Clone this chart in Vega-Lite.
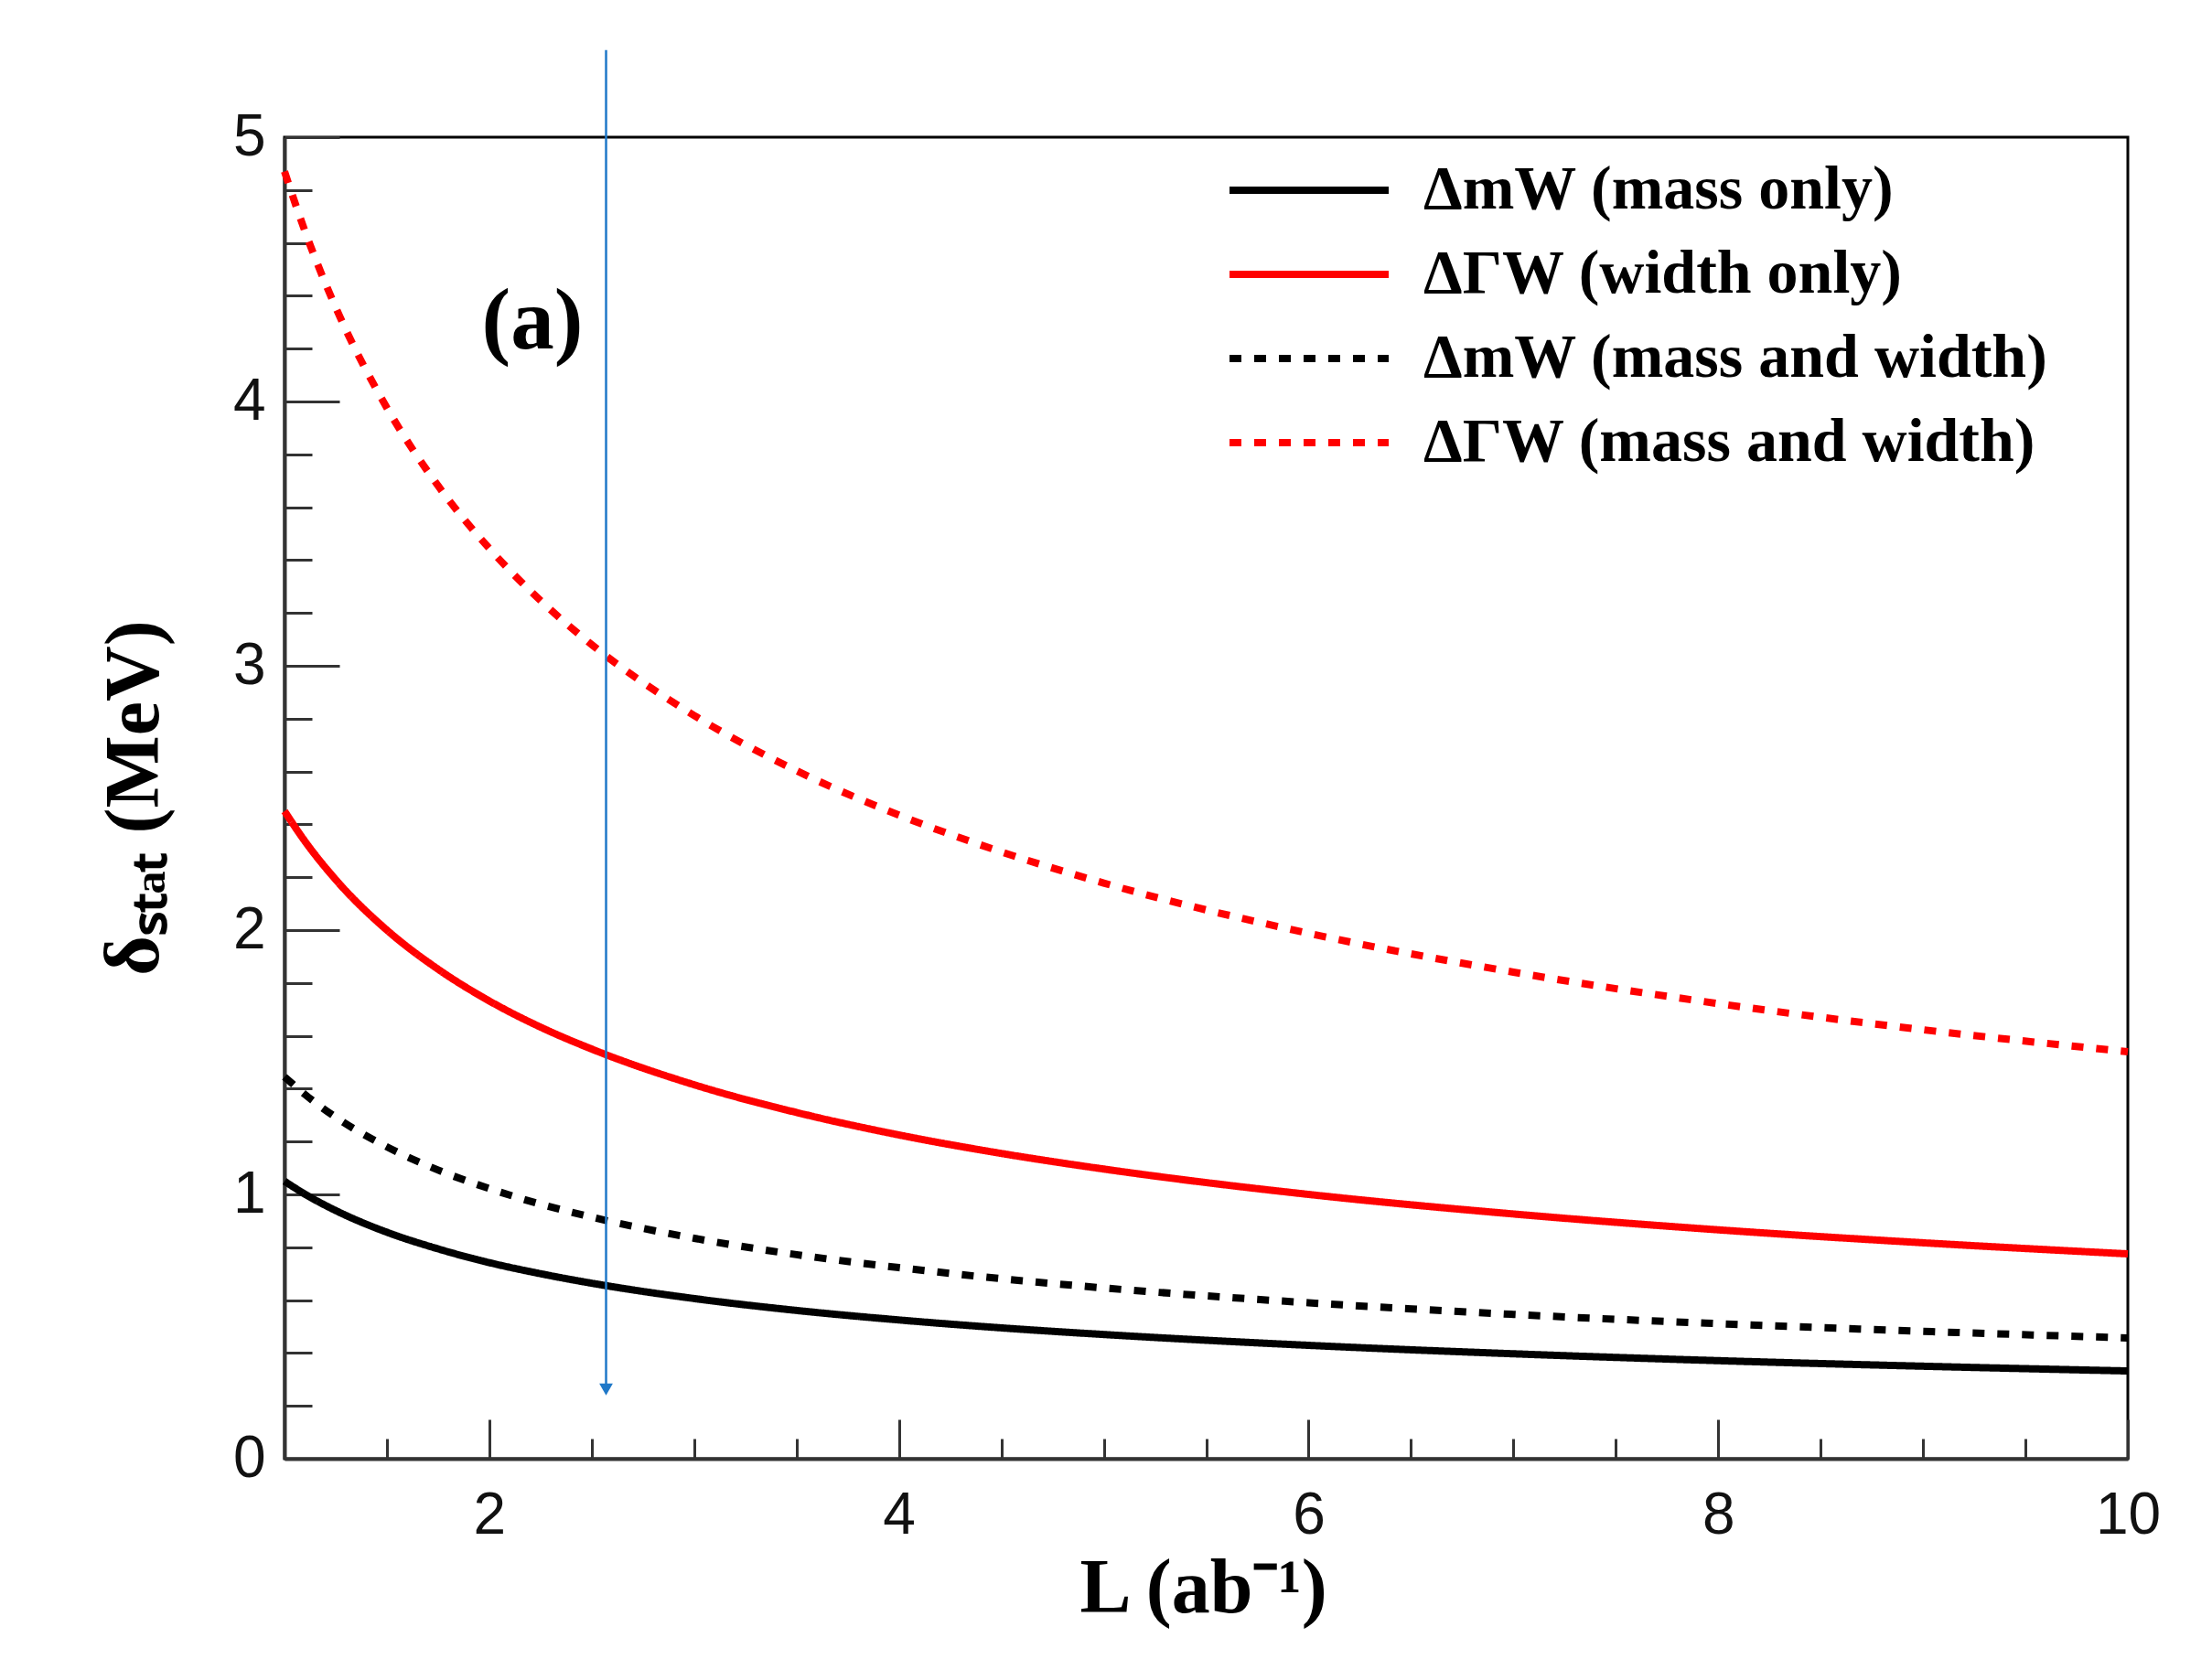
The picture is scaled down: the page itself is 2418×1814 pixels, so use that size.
{
  "$schema": "https://vega.github.io/schema/vega-lite/v6.json",
  "width": 2015,
  "height": 1445,
  "autosize": {"type": "none"},
  "padding": {"left": 311, "top": 150, "right": 92, "bottom": 219},
  "background": "white",
  "config": {"view": {"stroke": "#000", "strokeWidth": 3}, "font": "Liberation Sans"},
  "datasets": {
    "curves": [
      {"L": 1, "v": 1.050, "s": "ΔmW (mass only)"},
      {"L": 1.1, "v": 1.001, "s": "ΔmW (mass only)"},
      {"L": 1.25, "v": 0.939, "s": "ΔmW (mass only)"},
      {"L": 1.5, "v": 0.857, "s": "ΔmW (mass only)"},
      {"L": 1.75, "v": 0.794, "s": "ΔmW (mass only)"},
      {"L": 2, "v": 0.742, "s": "ΔmW (mass only)"},
      {"L": 2.25, "v": 0.700, "s": "ΔmW (mass only)"},
      {"L": 2.5, "v": 0.664, "s": "ΔmW (mass only)"},
      {"L": 3, "v": 0.606, "s": "ΔmW (mass only)"},
      {"L": 3.5, "v": 0.561, "s": "ΔmW (mass only)"},
      {"L": 4, "v": 0.525, "s": "ΔmW (mass only)"},
      {"L": 4.5, "v": 0.495, "s": "ΔmW (mass only)"},
      {"L": 5, "v": 0.470, "s": "ΔmW (mass only)"},
      {"L": 6, "v": 0.429, "s": "ΔmW (mass only)"},
      {"L": 7, "v": 0.397, "s": "ΔmW (mass only)"},
      {"L": 8, "v": 0.371, "s": "ΔmW (mass only)"},
      {"L": 9, "v": 0.350, "s": "ΔmW (mass only)"},
      {"L": 10, "v": 0.332, "s": "ΔmW (mass only)"},
      {"L": 1, "v": 2.450, "s": "ΔΓW (width only)"},
      {"L": 1.1, "v": 2.336, "s": "ΔΓW (width only)"},
      {"L": 1.25, "v": 2.191, "s": "ΔΓW (width only)"},
      {"L": 1.5, "v": 2.000, "s": "ΔΓW (width only)"},
      {"L": 1.75, "v": 1.852, "s": "ΔΓW (width only)"},
      {"L": 2, "v": 1.732, "s": "ΔΓW (width only)"},
      {"L": 2.25, "v": 1.633, "s": "ΔΓW (width only)"},
      {"L": 2.5, "v": 1.550, "s": "ΔΓW (width only)"},
      {"L": 3, "v": 1.415, "s": "ΔΓW (width only)"},
      {"L": 3.5, "v": 1.310, "s": "ΔΓW (width only)"},
      {"L": 4, "v": 1.225, "s": "ΔΓW (width only)"},
      {"L": 4.5, "v": 1.155, "s": "ΔΓW (width only)"},
      {"L": 5, "v": 1.096, "s": "ΔΓW (width only)"},
      {"L": 6, "v": 1.000, "s": "ΔΓW (width only)"},
      {"L": 7, "v": 0.926, "s": "ΔΓW (width only)"},
      {"L": 8, "v": 0.866, "s": "ΔΓW (width only)"},
      {"L": 9, "v": 0.817, "s": "ΔΓW (width only)"},
      {"L": 10, "v": 0.775, "s": "ΔΓW (width only)"},
      {"L": 1, "v": 1.445, "s": "ΔmW (mass and width)"},
      {"L": 1.1, "v": 1.378, "s": "ΔmW (mass and width)"},
      {"L": 1.25, "v": 1.292, "s": "ΔmW (mass and width)"},
      {"L": 1.5, "v": 1.180, "s": "ΔmW (mass and width)"},
      {"L": 1.75, "v": 1.092, "s": "ΔmW (mass and width)"},
      {"L": 2, "v": 1.022, "s": "ΔmW (mass and width)"},
      {"L": 2.25, "v": 0.963, "s": "ΔmW (mass and width)"},
      {"L": 2.5, "v": 0.914, "s": "ΔmW (mass and width)"},
      {"L": 3, "v": 0.834, "s": "ΔmW (mass and width)"},
      {"L": 3.5, "v": 0.772, "s": "ΔmW (mass and width)"},
      {"L": 4, "v": 0.723, "s": "ΔmW (mass and width)"},
      {"L": 4.5, "v": 0.681, "s": "ΔmW (mass and width)"},
      {"L": 5, "v": 0.646, "s": "ΔmW (mass and width)"},
      {"L": 6, "v": 0.590, "s": "ΔmW (mass and width)"},
      {"L": 7, "v": 0.546, "s": "ΔmW (mass and width)"},
      {"L": 8, "v": 0.511, "s": "ΔmW (mass and width)"},
      {"L": 9, "v": 0.482, "s": "ΔmW (mass and width)"},
      {"L": 10, "v": 0.457, "s": "ΔmW (mass and width)"},
      {"L": 1, "v": 4.870, "s": "ΔΓW (mass and width)"},
      {"L": 1.1, "v": 4.644, "s": "ΔΓW (mass and width)"},
      {"L": 1.25, "v": 4.356, "s": "ΔΓW (mass and width)"},
      {"L": 1.5, "v": 3.976, "s": "ΔΓW (mass and width)"},
      {"L": 1.75, "v": 3.681, "s": "ΔΓW (mass and width)"},
      {"L": 2, "v": 3.444, "s": "ΔΓW (mass and width)"},
      {"L": 2.25, "v": 3.247, "s": "ΔΓW (mass and width)"},
      {"L": 2.5, "v": 3.080, "s": "ΔΓW (mass and width)"},
      {"L": 3, "v": 2.812, "s": "ΔΓW (mass and width)"},
      {"L": 3.5, "v": 2.603, "s": "ΔΓW (mass and width)"},
      {"L": 4, "v": 2.435, "s": "ΔΓW (mass and width)"},
      {"L": 4.5, "v": 2.296, "s": "ΔΓW (mass and width)"},
      {"L": 5, "v": 2.178, "s": "ΔΓW (mass and width)"},
      {"L": 6, "v": 1.988, "s": "ΔΓW (mass and width)"},
      {"L": 7, "v": 1.841, "s": "ΔΓW (mass and width)"},
      {"L": 8, "v": 1.722, "s": "ΔΓW (mass and width)"},
      {"L": 9, "v": 1.623, "s": "ΔΓW (mass and width)"},
      {"L": 10, "v": 1.540, "s": "ΔΓW (mass and width)"}
    ],
    "arrow": [{"x": 2.57, "y1": 0.262, "y2": 5.33}],
    "labels": [{"x": 2.21, "y": 4.30, "label": "(a)"}]
  },
  "layer": [
    {
      "data": {"name": "curves"},
      "mark": {"type": "line", "strokeWidth": 8, "interpolate": "monotone", "strokeCap": "butt"},
      "encoding": {
        "x": {
          "field": "L", "type": "quantitative",
          "scale": {"domain": [1, 10], "nice": false, "zero": false},
          "axis": {
            "values": [1, 1.5, 2, 2.5, 3, 3.5, 4, 4.5, 5, 5.5, 6, 6.5, 7, 7.5, 8, 8.5, 9, 9.5, 10],
            "title": "L (ab⁻¹)",
            "titleFont": "Liberation Serif", "titleFontWeight": "bold", "titleFontSize": 84, "titleColor": "#000",
            "titleX": 1004, "titleY": 167, "titleAlign": "center", "titleBaseline": "alphabetic",
            "labelExpr": "datum.value % 2 === 0 ? '' + datum.value : ''",
            "labelFont": "Liberation Sans", "labelFontSize": 64, "labelColor": "#111",
            "labelPadding": 73, "labelFlush": false, "labelOverlap": false,
            "tickSize": {"condition": {"test": "datum.value % 2 === 0", "value": -43}, "value": -22},
            "tickColor": "#333", "tickWidth": 3,
            "domainColor": "#333", "domainWidth": 4,
            "grid": false
          }
        },
        "y": {
          "field": "v", "type": "quantitative",
          "scale": {"domain": [0, 5], "nice": false},
          "axis": {
            "values": [0, 0.2, 0.4, 0.6, 0.8, 1, 1.2, 1.4, 1.6, 1.8, 2, 2.2, 2.4, 2.6, 2.8, 3, 3.2, 3.4, 3.6, 3.8, 4, 4.2, 4.4, 4.6, 4.8, 5],
            "title": "δₛₜₐₜ (MeV)",
            "titleFont": "Liberation Serif", "titleFontWeight": "bold", "titleFontSize": 84, "titleColor": "#000",
            "titleX": -164, "titleY": 722, "titleAngle": -90, "titleAlign": "center", "titleBaseline": "middle",
            "labelExpr": "datum.value % 1 === 0 ? '' + datum.value : ''",
            "labelFont": "Liberation Sans", "labelFontSize": 64, "labelColor": "#111",
            "labelPadding": 81, "labelFlush": false, "labelOverlap": false,
            "tickSize": {"condition": {"test": "datum.value % 1 === 0", "value": -60}, "value": -30},
            "tickColor": "#333", "tickWidth": 3,
            "domainColor": "#333", "domainWidth": 4,
            "grid": false
          }
        },
        "color": {
          "field": "s", "type": "nominal",
          "scale": {
            "domain": ["ΔmW (mass only)", "ΔΓW (width only)", "ΔmW (mass and width)", "ΔΓW (mass and width)"],
            "range": ["#000000", "#ff0000", "#000000", "#ff0000"]
          },
          "legend": {
            "orient": "none", "legendX": 1086, "legendY": 24, "title": null,
            "symbolType": "M-3,0H3", "symbolSize": 3364, "symbolStrokeWidth": 8,
            "labelFont": "Liberation Serif", "labelFontWeight": "bold", "labelFontSize": 68, "labelColor": "#000",
            "labelOffset": 91, "labelLimit": 1000, "rowPadding": 24, "padding": 0
          }
        },
        "strokeDash": {
          "field": "s", "type": "nominal",
          "scale": {
            "domain": ["ΔmW (mass only)", "ΔΓW (width only)", "ΔmW (mass and width)", "ΔΓW (mass and width)"],
            "range": [[1, 0], [1, 0], [13, 14], [13, 14]]
          },
          "legend": {
            "orient": "none", "legendX": 1086, "legendY": 24, "title": null,
            "symbolType": "M-3,0H3", "symbolSize": 3364, "symbolStrokeWidth": 8,
            "labelFont": "Liberation Serif", "labelFontWeight": "bold", "labelFontSize": 68, "labelColor": "#000",
            "labelOffset": 91, "labelLimit": 1000, "rowPadding": 24, "padding": 0
          }
        }
      }
    },
    {
      "data": {"name": "arrow"},
      "mark": {"type": "rule", "color": "#1f78c8", "strokeWidth": 2.5},
      "encoding": {
        "x": {"field": "x", "type": "quantitative"},
        "y": {"field": "y1", "type": "quantitative"},
        "y2": {"field": "y2"}
      }
    },
    {
      "data": {"name": "arrow"},
      "mark": {"type": "point", "shape": "triangle-down", "filled": true, "color": "#1f78c8", "size": 220, "opacity": 1},
      "encoding": {
        "x": {"field": "x", "type": "quantitative"},
        "y": {"field": "y1", "type": "quantitative"}
      }
    },
    {
      "data": {"name": "labels"},
      "mark": {"type": "text", "font": "Liberation Serif", "fontWeight": "bold", "fontSize": 95, "align": "center", "baseline": "middle", "color": "#000"},
      "encoding": {
        "x": {"field": "x", "type": "quantitative"},
        "y": {"field": "y", "type": "quantitative"},
        "text": {"field": "label"}
      }
    }
  ]
}
